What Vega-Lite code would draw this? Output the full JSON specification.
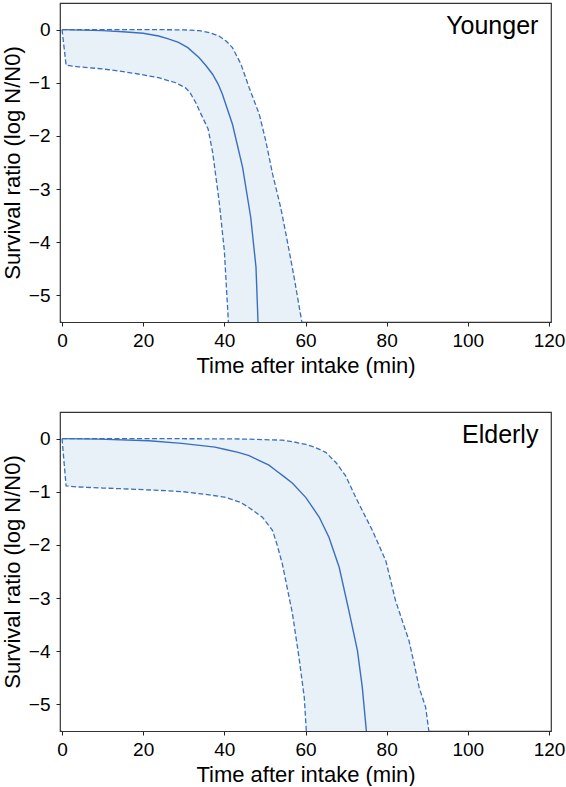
{
  "$schema": "https://vega.github.io/schema/vega-lite/v6.json",
  "padding": {"left": 0, "top": 2, "right": 0, "bottom": 0},
  "background": "white",
  "spacing": 34,
  "datasets": {
    "curves": [
      {"p": "Younger", "s": "lower", "x": 0, "y": 0},
      {"p": "Younger", "s": "lower", "x": 1, "y": -0.67},
      {"p": "Younger", "s": "lower", "x": 4, "y": -0.70},
      {"p": "Younger", "s": "lower", "x": 10, "y": -0.74},
      {"p": "Younger", "s": "lower", "x": 14, "y": -0.78},
      {"p": "Younger", "s": "lower", "x": 20, "y": -0.85},
      {"p": "Younger", "s": "lower", "x": 24, "y": -0.91},
      {"p": "Younger", "s": "lower", "x": 28, "y": -1.0},
      {"p": "Younger", "s": "lower", "x": 30.5, "y": -1.10},
      {"p": "Younger", "s": "lower", "x": 31.5, "y": -1.18},
      {"p": "Younger", "s": "lower", "x": 33, "y": -1.38},
      {"p": "Younger", "s": "lower", "x": 34, "y": -1.55},
      {"p": "Younger", "s": "lower", "x": 36, "y": -1.87},
      {"p": "Younger", "s": "lower", "x": 37.1, "y": -2.3},
      {"p": "Younger", "s": "lower", "x": 38.7, "y": -3.22},
      {"p": "Younger", "s": "lower", "x": 40, "y": -4.16},
      {"p": "Younger", "s": "lower", "x": 41, "y": -5.5},
      {"p": "Younger", "s": "median", "x": 0, "y": 0},
      {"p": "Younger", "s": "median", "x": 5, "y": -0.01},
      {"p": "Younger", "s": "median", "x": 10, "y": -0.02},
      {"p": "Younger", "s": "median", "x": 15, "y": -0.04},
      {"p": "Younger", "s": "median", "x": 20, "y": -0.07},
      {"p": "Younger", "s": "median", "x": 23.8, "y": -0.12},
      {"p": "Younger", "s": "median", "x": 26, "y": -0.17},
      {"p": "Younger", "s": "median", "x": 28.7, "y": -0.24},
      {"p": "Younger", "s": "median", "x": 31, "y": -0.34},
      {"p": "Younger", "s": "median", "x": 33.8, "y": -0.53},
      {"p": "Younger", "s": "median", "x": 35.5, "y": -0.68},
      {"p": "Younger", "s": "median", "x": 37.1, "y": -0.84},
      {"p": "Younger", "s": "median", "x": 38.5, "y": -1.03},
      {"p": "Younger", "s": "median", "x": 39.5, "y": -1.21},
      {"p": "Younger", "s": "median", "x": 42, "y": -1.78},
      {"p": "Younger", "s": "median", "x": 44.5, "y": -2.59},
      {"p": "Younger", "s": "median", "x": 46.5, "y": -3.53},
      {"p": "Younger", "s": "median", "x": 47.8, "y": -4.47},
      {"p": "Younger", "s": "median", "x": 48.3, "y": -5.5},
      {"p": "Younger", "s": "upper", "x": 0, "y": 0},
      {"p": "Younger", "s": "upper", "x": 10, "y": 0},
      {"p": "Younger", "s": "upper", "x": 20, "y": 0},
      {"p": "Younger", "s": "upper", "x": 30, "y": -0.005},
      {"p": "Younger", "s": "upper", "x": 33.8, "y": -0.02},
      {"p": "Younger", "s": "upper", "x": 36.5, "y": -0.06},
      {"p": "Younger", "s": "upper", "x": 38.7, "y": -0.12},
      {"p": "Younger", "s": "upper", "x": 40.5, "y": -0.22},
      {"p": "Younger", "s": "upper", "x": 42, "y": -0.34},
      {"p": "Younger", "s": "upper", "x": 44.1, "y": -0.65},
      {"p": "Younger", "s": "upper", "x": 46.1, "y": -1.09},
      {"p": "Younger", "s": "upper", "x": 48.6, "y": -1.59},
      {"p": "Younger", "s": "upper", "x": 50.2, "y": -2.09},
      {"p": "Younger", "s": "upper", "x": 51.9, "y": -2.72},
      {"p": "Younger", "s": "upper", "x": 53.9, "y": -3.35},
      {"p": "Younger", "s": "upper", "x": 55.2, "y": -3.85},
      {"p": "Younger", "s": "upper", "x": 57.2, "y": -4.66},
      {"p": "Younger", "s": "upper", "x": 59.1, "y": -5.5},
      {"p": "Elderly", "s": "lower", "x": 0, "y": 0},
      {"p": "Elderly", "s": "lower", "x": 1, "y": -0.89},
      {"p": "Elderly", "s": "lower", "x": 4, "y": -0.91},
      {"p": "Elderly", "s": "lower", "x": 10, "y": -0.93},
      {"p": "Elderly", "s": "lower", "x": 17, "y": -0.95},
      {"p": "Elderly", "s": "lower", "x": 25.5, "y": -0.98},
      {"p": "Elderly", "s": "lower", "x": 30, "y": -1.0},
      {"p": "Elderly", "s": "lower", "x": 35.3, "y": -1.05},
      {"p": "Elderly", "s": "lower", "x": 40, "y": -1.1},
      {"p": "Elderly", "s": "lower", "x": 42, "y": -1.15},
      {"p": "Elderly", "s": "lower", "x": 44, "y": -1.2},
      {"p": "Elderly", "s": "lower", "x": 46.1, "y": -1.30},
      {"p": "Elderly", "s": "lower", "x": 49.4, "y": -1.48},
      {"p": "Elderly", "s": "lower", "x": 51.9, "y": -1.73},
      {"p": "Elderly", "s": "lower", "x": 53, "y": -2.0},
      {"p": "Elderly", "s": "lower", "x": 54.3, "y": -2.36},
      {"p": "Elderly", "s": "lower", "x": 56.8, "y": -3.30},
      {"p": "Elderly", "s": "lower", "x": 58.4, "y": -4.12},
      {"p": "Elderly", "s": "lower", "x": 59.7, "y": -4.87},
      {"p": "Elderly", "s": "lower", "x": 60.2, "y": -5.5},
      {"p": "Elderly", "s": "median", "x": 0, "y": 0},
      {"p": "Elderly", "s": "median", "x": 9, "y": -0.01},
      {"p": "Elderly", "s": "median", "x": 21.4, "y": -0.04},
      {"p": "Elderly", "s": "median", "x": 29.5, "y": -0.09},
      {"p": "Elderly", "s": "median", "x": 37.7, "y": -0.16},
      {"p": "Elderly", "s": "median", "x": 40, "y": -0.2},
      {"p": "Elderly", "s": "median", "x": 43.4, "y": -0.26},
      {"p": "Elderly", "s": "median", "x": 46.1, "y": -0.32},
      {"p": "Elderly", "s": "median", "x": 48.5, "y": -0.41},
      {"p": "Elderly", "s": "median", "x": 51, "y": -0.5},
      {"p": "Elderly", "s": "median", "x": 52.7, "y": -0.6},
      {"p": "Elderly", "s": "median", "x": 54.8, "y": -0.72},
      {"p": "Elderly", "s": "median", "x": 56.8, "y": -0.84},
      {"p": "Elderly", "s": "median", "x": 60.1, "y": -1.11},
      {"p": "Elderly", "s": "median", "x": 63.4, "y": -1.48},
      {"p": "Elderly", "s": "median", "x": 65.8, "y": -1.86},
      {"p": "Elderly", "s": "median", "x": 68.3, "y": -2.42},
      {"p": "Elderly", "s": "median", "x": 70.7, "y": -3.24},
      {"p": "Elderly", "s": "median", "x": 72.8, "y": -3.99},
      {"p": "Elderly", "s": "median", "x": 74, "y": -4.68},
      {"p": "Elderly", "s": "median", "x": 75, "y": -5.5},
      {"p": "Elderly", "s": "upper", "x": 0, "y": 0},
      {"p": "Elderly", "s": "upper", "x": 20, "y": 0},
      {"p": "Elderly", "s": "upper", "x": 40, "y": -0.005},
      {"p": "Elderly", "s": "upper", "x": 46.1, "y": -0.01},
      {"p": "Elderly", "s": "upper", "x": 50, "y": -0.02},
      {"p": "Elderly", "s": "upper", "x": 54.3, "y": -0.03},
      {"p": "Elderly", "s": "upper", "x": 57, "y": -0.06},
      {"p": "Elderly", "s": "upper", "x": 60.1, "y": -0.11},
      {"p": "Elderly", "s": "upper", "x": 62.5, "y": -0.17},
      {"p": "Elderly", "s": "upper", "x": 65, "y": -0.26},
      {"p": "Elderly", "s": "upper", "x": 67.5, "y": -0.45},
      {"p": "Elderly", "s": "upper", "x": 69.9, "y": -0.70},
      {"p": "Elderly", "s": "upper", "x": 72.4, "y": -1.11},
      {"p": "Elderly", "s": "upper", "x": 76.5, "y": -1.73},
      {"p": "Elderly", "s": "upper", "x": 79.8, "y": -2.30},
      {"p": "Elderly", "s": "upper", "x": 82.2, "y": -3.05},
      {"p": "Elderly", "s": "upper", "x": 85.5, "y": -3.80},
      {"p": "Elderly", "s": "upper", "x": 86.8, "y": -4.24},
      {"p": "Elderly", "s": "upper", "x": 88, "y": -4.68},
      {"p": "Elderly", "s": "upper", "x": 89.6, "y": -5.05},
      {"p": "Elderly", "s": "upper", "x": 90.4, "y": -5.5}
    ],
    "labels": [
      {"p": "Younger", "x": 117.4, "y": -0.08},
      {"p": "Elderly", "x": 117.4, "y": -0.08}
    ]
  },
  "vconcat": [
    {
      "width": 491,
      "height": 319,
      "layer": [
        {
          "data": {"name": "curves"},
          "transform": [{"filter": "datum.p === 'Younger' && datum.s === 'upper'"}],
          "mark": {"type": "area", "color": "#e8f0f8", "clip": true},
          "encoding": {
            "x": {"field": "x", "type": "quantitative", "scale": {"domain": [-0.5, 120.5], "nice": false, "zero": false},
                  "axis": {"title": "Time after intake (min)", "values": [0, 20, 40, 60, 80, 100, 120], "labelPadding": 5, "titlePadding": 5}},
            "y": {"field": "y", "type": "quantitative", "scale": {"domain": [-5.5, 0.5], "nice": false, "zero": false},
                  "axis": {"title": "Survival ratio (log N/N0)", "values": [0, -1, -2, -3, -4, -5], "labelPadding": 6, "titlePadding": 4}},
            "y2": {"datum": -5.5}
          }
        },
        {
          "data": {"name": "curves"},
          "transform": [{"filter": "datum.p === 'Younger' && datum.s === 'lower'"}],
          "mark": {"type": "area", "color": "white", "clip": true},
          "encoding": {
            "x": {"field": "x", "type": "quantitative"},
            "y": {"field": "y", "type": "quantitative"},
            "y2": {"datum": -5.5}
          }
        },
        {
          "data": {"name": "curves"},
          "transform": [{"filter": "datum.p === 'Younger' && datum.s !== 'median'"}],
          "mark": {"type": "line", "color": "#3a6fc0", "strokeWidth": 1.3, "strokeDash": [5, 2.5], "clip": true},
          "encoding": {
            "x": {"field": "x", "type": "quantitative"},
            "y": {"field": "y", "type": "quantitative"},
            "detail": {"field": "s"}
          }
        },
        {
          "data": {"name": "curves"},
          "transform": [{"filter": "datum.p === 'Younger' && datum.s === 'median'"}],
          "mark": {"type": "line", "color": "#3a6fc0", "strokeWidth": 1.4, "clip": true},
          "encoding": {
            "x": {"field": "x", "type": "quantitative"},
            "y": {"field": "y", "type": "quantitative"}
          }
        },
        {
          "data": {"name": "labels"},
          "transform": [{"filter": "datum.p === 'Younger'"}],
          "mark": {"type": "text", "align": "right", "baseline": "alphabetic", "font": "Liberation Sans", "fontSize": 25, "color": "#000"},
          "encoding": {
            "x": {"field": "x", "type": "quantitative"},
            "y": {"field": "y", "type": "quantitative"},
            "text": {"field": "p"}
          }
        }
      ]
    },
    {
      "width": 491,
      "height": 319,
      "layer": [
        {
          "data": {"name": "curves"},
          "transform": [{"filter": "datum.p === 'Elderly' && datum.s === 'upper'"}],
          "mark": {"type": "area", "color": "#e8f0f8", "clip": true},
          "encoding": {
            "x": {"field": "x", "type": "quantitative", "scale": {"domain": [-0.5, 120.5], "nice": false, "zero": false},
                  "axis": {"title": "Time after intake (min)", "values": [0, 20, 40, 60, 80, 100, 120], "labelPadding": 5, "titlePadding": 5}},
            "y": {"field": "y", "type": "quantitative", "scale": {"domain": [-5.5, 0.5], "nice": false, "zero": false},
                  "axis": {"title": "Survival ratio (log N/N0)", "values": [0, -1, -2, -3, -4, -5], "labelPadding": 6, "titlePadding": 4}},
            "y2": {"datum": -5.5}
          }
        },
        {
          "data": {"name": "curves"},
          "transform": [{"filter": "datum.p === 'Elderly' && datum.s === 'lower'"}],
          "mark": {"type": "area", "color": "white", "clip": true},
          "encoding": {
            "x": {"field": "x", "type": "quantitative"},
            "y": {"field": "y", "type": "quantitative"},
            "y2": {"datum": -5.5}
          }
        },
        {
          "data": {"name": "curves"},
          "transform": [{"filter": "datum.p === 'Elderly' && datum.s !== 'median'"}],
          "mark": {"type": "line", "color": "#3a6fc0", "strokeWidth": 1.3, "strokeDash": [5, 2.5], "clip": true},
          "encoding": {
            "x": {"field": "x", "type": "quantitative"},
            "y": {"field": "y", "type": "quantitative"},
            "detail": {"field": "s"}
          }
        },
        {
          "data": {"name": "curves"},
          "transform": [{"filter": "datum.p === 'Elderly' && datum.s === 'median'"}],
          "mark": {"type": "line", "color": "#3a6fc0", "strokeWidth": 1.4, "clip": true},
          "encoding": {
            "x": {"field": "x", "type": "quantitative"},
            "y": {"field": "y", "type": "quantitative"}
          }
        },
        {
          "data": {"name": "labels"},
          "transform": [{"filter": "datum.p === 'Elderly'"}],
          "mark": {"type": "text", "align": "right", "baseline": "alphabetic", "font": "Liberation Sans", "fontSize": 25, "color": "#000"},
          "encoding": {
            "x": {"field": "x", "type": "quantitative"},
            "y": {"field": "y", "type": "quantitative"},
            "text": {"field": "p"}
          }
        }
      ]
    }
  ],
  "config": {
    "font": "Liberation Sans",
    "view": {"stroke": "#333", "strokeWidth": 1.2},
    "axis": {
      "labelFont": "Liberation Sans",
      "titleFont": "Liberation Sans",
      "labelFontSize": 19,
      "titleFontSize": 22,
      "titleFontWeight": "normal",
      "labelColor": "#000",
      "titleColor": "#000",
      "tickColor": "#222",
      "tickSize": 4,
      "tickWidth": 1,
      "domain": false,
      "grid": false
    }
  }
}
